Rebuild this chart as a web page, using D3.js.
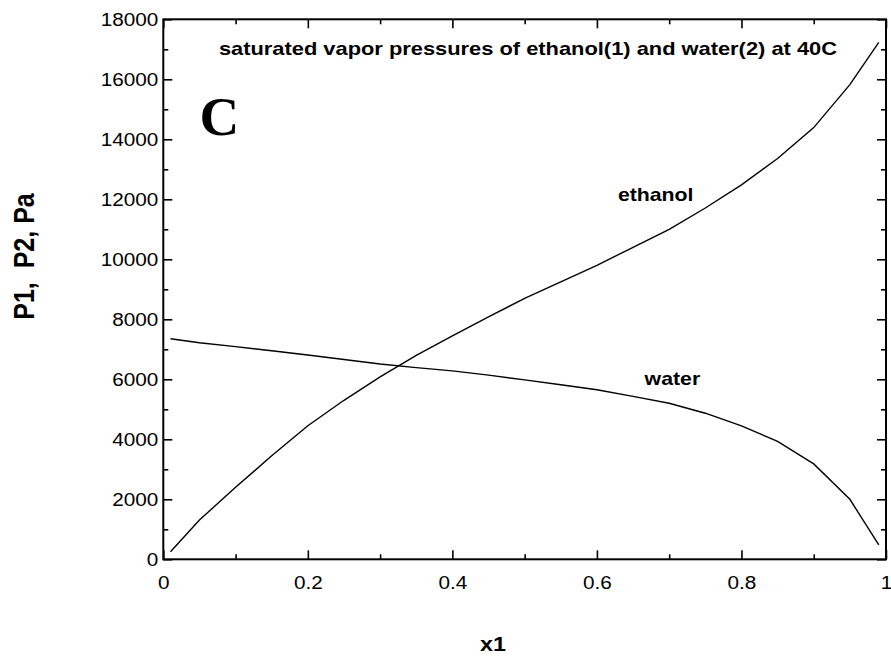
<!DOCTYPE html>
<html>
<head>
<meta charset="utf-8">
<script src="https://cdn.jsdelivr.net/npm/d3@7"></script>
<style>
  body { margin: 0; background: #fff; }
  svg { font-family: "Liberation Sans", Arial, sans-serif; }
</style>
</head>
<body>
<div id="chart"></div>
<script>
//chart values
var x1Values = [0.01, 0.05, 0.1, 0.15, 0.2, 0.25, 0.3, 0.35, 0.4, 0.45, 0.5, 0.55, 0.6, 0.65, 0.7, 0.75, 0.8, 0.85, 0.9, 0.95, 0.99];
var ethanolP = [250, 1310, 2400, 3450, 4450, 5300, 6080, 6800, 7450, 8080, 8700, 9250, 9800, 10400, 11000, 11710, 12480, 13360, 14390, 15820, 17230];
var waterP = [7350, 7220, 7090, 6950, 6810, 6660, 6510, 6390, 6280, 6140, 5980, 5820, 5650, 5430, 5200, 4870, 4450, 3930, 3180, 2000, 480];
var xTicks = [0, 0.2, 0.4, 0.6, 0.8, 1];
var yTicks = [0, 2000, 4000, 6000, 8000, 10000, 12000, 14000, 16000, 18000];
var xMinor = [0.1, 0.3, 0.5, 0.7, 0.9];
var yMinor = [1000, 3000, 5000, 7000, 9000, 11000, 13000, 15000, 17000];

//svg dimensions
var svgWidth = 891;
var svgHeight = 661;
var margin = { top: 19.3, right: 5, bottom: 101.7, left: 163.3 };
var width = svgWidth - margin.left - margin.right;
var height = svgHeight - margin.top - margin.bottom;
var stretch = 1.15; //the reference is a bit wide horizontally

var svg = d3.select("#chart")
    .append("svg")
    .attr("width", svgWidth)
    .attr("height", svgHeight);

var chartGroup = svg.append("g")
    .attr("transform", `translate(${margin.left}, ${margin.top})`);

var xScale = d3.scaleLinear().domain([0, 1]).range([0, width]);
var yScale = d3.scaleLinear().domain([0, 18000]).range([height, 0]);

//major and minor ticks pointing inward on all four sides
function tickAxis(axisFn, scale, values, size, transform) {
    var g = chartGroup.append("g")
        .attr("transform", transform)
        .call(axisFn(scale).tickValues(values).tickSize(-size).tickFormat(""));
    g.select(".domain").remove();
    g.selectAll("line").attr("stroke", "#000").attr("stroke-width", 1.6);
}
tickAxis(d3.axisBottom, xScale, xTicks, 9, `translate(0, ${height})`);
tickAxis(d3.axisBottom, xScale, xMinor, 5, `translate(0, ${height})`);
tickAxis(d3.axisTop, xScale, xTicks, 9, "translate(0, 0)");
tickAxis(d3.axisTop, xScale, xMinor, 5, "translate(0, 0)");
tickAxis(d3.axisLeft, yScale, yTicks, 9, "translate(0, 0)");
tickAxis(d3.axisLeft, yScale, yMinor, 5, "translate(0, 0)");
tickAxis(d3.axisRight, yScale, yTicks, 9, `translate(${width}, 0)`);
tickAxis(d3.axisRight, yScale, yMinor, 5, `translate(${width}, 0)`);

//frame
chartGroup.append("rect")
    .attr("width", width)
    .attr("height", height)
    .attr("fill", "none")
    .attr("stroke", "#000")
    .attr("stroke-width", 2);

//tick labels
var xLabels = chartGroup.append("g")
    .attr("transform", `translate(0, ${height})`)
    .call(d3.axisBottom(xScale).tickValues(xTicks).tickSize(0).tickPadding(0).tickFormat(d3.format("")));
xLabels.select(".domain").remove();
xLabels.selectAll("text")
    .attr("y", 30)
    .attr("dy", 0)
    .attr("font-size", "18px")
    .attr("font-family", "Liberation Sans, Arial, sans-serif")
    .attr("fill", "#000");

var yLabels = chartGroup.append("g")
    .call(d3.axisLeft(yScale).tickValues(yTicks).tickSize(0).tickPadding(5).tickFormat(d3.format("d")));
yLabels.select(".domain").remove();
yLabels.selectAll("text")
    .attr("font-size", "18px")
    .attr("font-family", "Liberation Sans, Arial, sans-serif")
    .attr("fill", "#000");

//curves
var line = d3.line()
    .x((d, i) => xScale(x1Values[i]))
    .y(d => yScale(d));

chartGroup.append("path")
    .datum(ethanolP)
    .attr("d", line)
    .attr("fill", "none")
    .attr("stroke", "#000")
    .attr("stroke-width", 1.4);

chartGroup.append("path")
    .datum(waterP)
    .attr("d", line)
    .attr("fill", "none")
    .attr("stroke", "#000")
    .attr("stroke-width", 1.4);

//annotations
chartGroup.append("text")
    .attr("x", xScale(0.077))
    .attr("y", yScale(16810))
    .attr("font-size", "19px")
    .style("font-weight", "bold")
    .text("saturated vapor pressures of ethanol(1) and water(2) at 40C");

chartGroup.append("text")
    .attr("x", xScale(0.629))
    .attr("y", yScale(11950))
    .attr("font-size", "18.5px")
    .style("font-weight", "bold")
    .text("ethanol");

chartGroup.append("text")
    .attr("x", xScale(0.666))
    .attr("y", yScale(5810))
    .attr("font-size", "18.5px")
    .style("font-weight", "bold")
    .text("water");

//stretch the texts sideways like the reference
svg.selectAll("text").each(function() {
    var t = d3.select(this);
    t.attr("textLength", this.getComputedTextLength() * stretch)
        .attr("lengthAdjust", "spacingAndGlyphs");
});

chartGroup.append("text")
    .attr("x", xScale(0.05))
    .attr("y", yScale(14140))
    .attr("font-family", "Liberation Serif, Times New Roman, serif")
    .attr("font-size", "55px")
    .style("font-weight", "bold")
    .text("C");

//axis labels
svg.append("text")
    .attr("x", 493)
    .attr("y", 651)
    .attr("text-anchor", "middle")
    .attr("font-size", "21px")
    .style("font-weight", "bold")
    .text("x1")
    .attr("textLength", 26)
    .attr("lengthAdjust", "spacingAndGlyphs");

svg.append("text")
    .attr("transform", "translate(34, 256.5) rotate(-90) scale(1, 1.15)")
    .attr("text-anchor", "middle")
    .attr("font-size", "25px")
    .style("font-weight", "bold")
    .style("white-space", "pre")
    .text("P1,  P2, Pa");
</script>
</body>
</html>
